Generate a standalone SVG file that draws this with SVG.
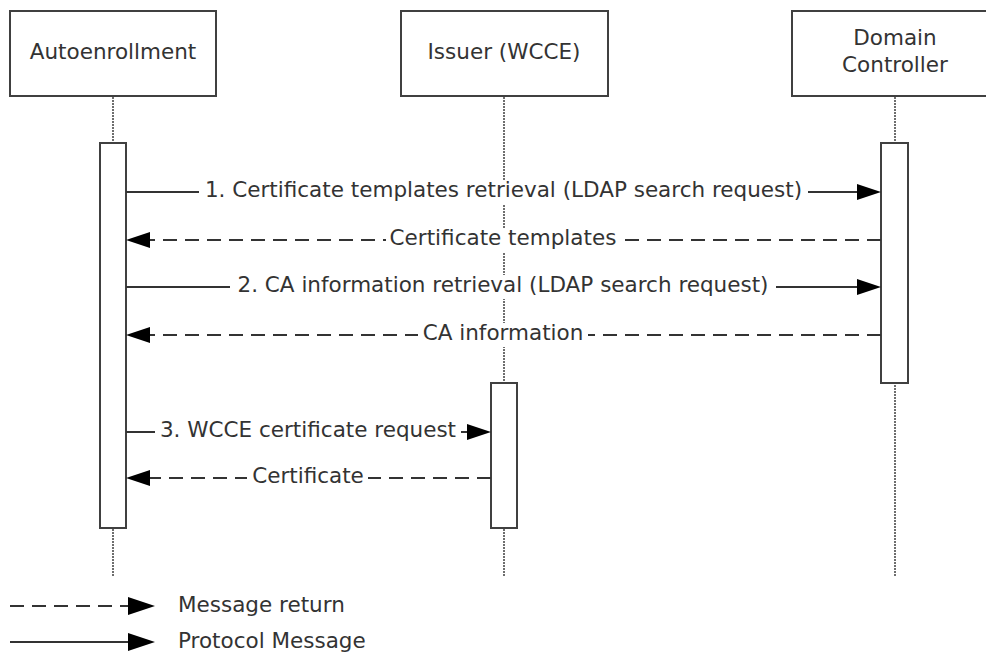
<svg xmlns="http://www.w3.org/2000/svg" width="986" height="654" viewBox="0 0 986 654">
  <style>
    .box { fill: #ffffff; stroke: #404040; stroke-width: 2; }
    .act { fill: #ffffff; stroke: #404040; stroke-width: 2; }
    .life { stroke: #6e6e6e; stroke-width: 2; stroke-dasharray: 2 1; fill: none; }
    .msg { stroke: #333333; stroke-width: 2; fill: none; }
    .ret { stroke: #333333; stroke-width: 2; fill: none; stroke-dasharray: 14 8; }
    .lbl { font-family: "DejaVu Sans", Verdana, sans-serif; font-size: 21.5px; fill: #333333; }
    .bg { fill: #ffffff; stroke: none; }
  </style>
  <defs>
    <marker id="arrow" markerUnits="userSpaceOnUse" markerWidth="24" markerHeight="16" refX="0" refY="8" orient="auto" viewBox="0 0 24 16">
      <path d="M0,0 L24,8 L0,16 Z" fill="#000000"/>
    </marker>
    <marker id="arrowL" markerUnits="userSpaceOnUse" markerWidth="27" markerHeight="18" refX="0" refY="9" orient="auto" viewBox="0 0 27 18">
      <path d="M0,0 L27,9 L0,18 Z" fill="#000000"/>
    </marker>
  </defs>

  <g id="lifelines">
    <line class="life" x1="113" y1="97" x2="113" y2="576"/>
    <line class="life" x1="504" y1="97" x2="504" y2="576"/>
    <line class="life" x1="895" y1="97" x2="895" y2="576"/>
  </g>

  <g id="node-autoenrollment">
    <rect class="box" x="10" y="11" width="206" height="85"/>
    <text class="lbl" x="113" y="59" text-anchor="middle">Autoenrollment</text>
  </g>
  <g id="node-issuer">
    <rect class="box" x="401" y="11" width="207" height="85"/>
    <text class="lbl" x="504" y="59" text-anchor="middle">Issuer (WCCE)</text>
  </g>
  <g id="node-dc">
    <rect class="box" x="792" y="11" width="206" height="85"/>
    <text class="lbl" x="895" y="45" text-anchor="middle">Domain</text>
    <text class="lbl" x="895" y="72" text-anchor="middle">Controller</text>
  </g>

  <g id="activations">
    <rect id="act-autoenrollment" class="act" x="100" y="143" width="26" height="385"/>
    <rect id="act-dc" class="act" x="881" y="143" width="27" height="240"/>
    <rect id="act-issuer" class="act" x="491" y="383" width="26" height="145"/>
  </g>

  <g id="connectors">
    <line class="msg" x1="126" y1="192" x2="857" y2="192" marker-end="url(#arrow)"/>
    <rect class="bg" x="199" y="180" width="609" height="24"/>
    <text class="lbl" x="503.5" y="197" text-anchor="middle">1. Certificate templates retrieval (LDAP search request)</text>

    <line class="ret" x1="881" y1="240" x2="150" y2="240" marker-end="url(#arrow)"/>
    <rect class="bg" x="386" y="228" width="234" height="24"/>
    <text class="lbl" x="503" y="245" text-anchor="middle">Certificate templates</text>

    <line class="msg" x1="126" y1="287" x2="857" y2="287" marker-end="url(#arrow)"/>
    <rect class="bg" x="230" y="275" width="546" height="24"/>
    <text class="lbl" x="503" y="292" text-anchor="middle">2. CA information retrieval (LDAP search request)</text>

    <line class="ret" x1="881" y1="335" x2="150" y2="335" marker-end="url(#arrow)"/>
    <rect class="bg" x="418" y="323" width="170" height="24"/>
    <text class="lbl" x="503" y="340" text-anchor="middle">CA information</text>

    <line class="msg" x1="126" y1="432" x2="467" y2="432" marker-end="url(#arrow)"/>
    <rect class="bg" x="155" y="420" width="306" height="24"/>
    <text class="lbl" x="308" y="437" text-anchor="middle">3. WCCE certificate request</text>

    <line class="ret" x1="491" y1="478" x2="150" y2="478" marker-end="url(#arrow)"/>
    <rect class="bg" x="247" y="466" width="121" height="24"/>
    <text class="lbl" x="308" y="483" text-anchor="middle">Certificate</text>
  </g>

  <g id="legend">
    <line class="ret" x1="10" y1="606" x2="128" y2="606" marker-end="url(#arrowL)"/>
    <text class="lbl" x="178" y="612">Message return</text>
    <line class="msg" x1="10" y1="642" x2="128" y2="642" marker-end="url(#arrowL)"/>
    <text class="lbl" x="178" y="648">Protocol Message</text>
  </g>
</svg>
